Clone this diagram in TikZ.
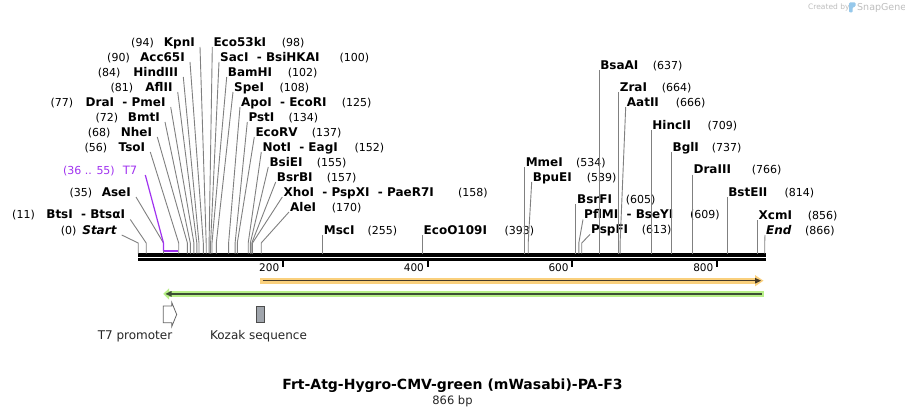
\documentclass[tikz,border=0pt]{standalone}
\usepackage{fontspec}
\setmainfont{DejaVu Sans}
\usetikzlibrary{calc}
\definecolor{leadgray}{RGB}{128,128,128}
\definecolor{t7purple}{RGB}{160,50,240}
\definecolor{orfill}{RGB}{250,208,125}
\definecolor{ordark}{RGB}{70,58,40}
\definecolor{grfill}{RGB}{184,240,136}
\definecolor{grdark}{RGB}{60,78,52}
\definecolor{kozfill}{RGB}{160,165,172}
\definecolor{wmgray}{RGB}{190,190,190}
\definecolor{wmblue}{RGB}{150,200,235}
\newcommand{\nm}[1]{{\fontsize{12}{14}\selectfont\bfseries #1}}
\newcommand{\enzL}[7]{%
  \coordinate (#1s) at (#2,253.5);
  \node[lbl, anchor=base east] (#1) at (#3,#4+4.3) {\nm{#5}};
  \node[lbl, anchor=base east] (#1n) at (#7,#4+4.3) {#6};
  \draw[leader] ($(#1.base east)+(5,0.7)$) -- ($(#1s)+(0,-10.5)$) -- (#1s);
}
\newcommand{\enzR}[7]{%
  \coordinate (#1s) at (#2,253.5);
  \node[lbl, anchor=base west] (#1) at (#3,#4+4.3) {\nm{#5}};
  \node[lbl, anchor=base west] (#1n) at (#7,#4+4.3) {#6};
  \draw[leader] ($(#1.base west)+(-1,0.7)$) -- ($(#1s)+(0,-10.5)$) -- (#1s);
}
\tikzset{
  lbl/.style={inner sep=0pt, font=\fontsize{11}{13}\selectfont},
  leader/.style={draw=leadgray, line width=0.9pt},
  featlbl/.style={inner sep=0pt, font=\fontsize{12}{14}\selectfont, text=black!85},
}
\begin{document}
\begin{tikzpicture}[x=1pt,y=-1pt]
\useasboundingbox (0,0) rectangle (905,417);
\fill[white] (0,0) rectangle (905,417);

% watermark
\node[inner sep=0pt, anchor=west, font=\fontsize{7.5}{9}\selectfont, text=wmgray] (wm1) at (808,7.5) {Created by};
\fill[wmblue, rounded corners=1pt] (849,12.5) -- (849,2.5) -- (855.5,2.5) -- (855.5,6.5) -- (852.5,7.5) -- (852.5,12.5) -- cycle;
\node[inner sep=0pt, anchor=west, font=\fontsize{9.5}{11}\selectfont, text=wmgray] (wm2) at (857,7.5) {SnapGene};

% sequence line
\fill[black] (137.7,253.3) rectangle (765.5,256.7);
\fill[black] (137.7,258) rectangle (765.5,260.7);

% ticks
\foreach \x/\t in {282.9/200,427.6/400,572.3/600,717/800}{
  \fill[black] (\x-0.9,261) rectangle (\x+0.9,267);
  \node[inner sep=0pt, anchor=base east, font=\fontsize{10.5}{12}\selectfont] (tick\t) at (\x-3.5,271.5) {\t};
}

% left-side enzymes
\enzL{kpn}{206.2}{195}{42}{KpnI}{(94)}{154}
\enzL{acc}{203.3}{185}{57}{Acc65I}{(90)}{130}
\enzL{hind}{199.0}{178.3}{72}{HindIII}{(84)}{120.7}
\enzL{afl}{196.8}{172.7}{87}{AflII}{(81)}{133.3}
\enzL{dra}{193.9}{165.7}{102}{DraI\ \ - PmeI}{(77)}{73.3}
\enzL{bmt}{190.3}{160}{117}{BmtI}{(72)}{118.3}
\enzL{nhe}{187.4}{152.3}{132}{NheI}{(68)}{110.7}
\enzL{tso}{178.7}{145.3}{147}{TsoI}{(56)}{107.3}
\enzL{ase}{163.5}{131}{192}{AseI}{(35)}{92.3}
\enzL{bts}{146.2}{125.3}{214.5}{BtsI\ \ - BtsαI}{(11)}{35}
\enzL{start}{138.2}{116.7}{230}{\itshape Start}{(0)}{76.7}

% T7 primer-like feature
\node[lbl, text=t7purple, anchor=base east] (t7n) at (115,174.3) {(36 .. 55)};
\node[lbl, text=t7purple, anchor=base east, font=\fontsize{11.5}{13}\selectfont] (t7) at (137.3,174.3) {T7};
\coordinate (t7a) at (163.5,250.8);
\coordinate (t7b) at (178,250.8);
\draw[t7purple, line width=1.2pt] ($(t7.base east)+(8,0.7)$) -- ($(t7a)+(0,-7.8)$) -- (t7a);
\draw[t7purple, line width=1.8pt] (t7a) -- (t7b);

% right-side enzymes
\enzR{ecofs}{209.1}{213.3}{42}{Eco53kI}{(98)}{281.7}
\enzR{sac}{210.6}{220}{57}{SacI\ \ - BsiHKAI}{(100)}{339.3}
\enzR{bam}{212.0}{227.7}{72}{BamHI}{(102)}{287.7}
\enzR{spe}{216.3}{234}{87}{SpeI}{(108)}{279.3}
\enzR{apo}{228.6}{241}{102}{ApoI\ \ - EcoRI}{(125)}{341.7}
\enzR{pst}{235.1}{248.3}{117}{PstI}{(134)}{288.3}
\enzR{ecorv}{237.3}{255.3}{132}{EcoRV}{(137)}{311.7}
\enzR{nota}{248.2}{262.3}{147}{NotI\ \ - EagI}{(152)}{354.3}
\enzR{bsie}{250.3}{269.3}{162}{BsiEI}{(155)}{316.7}
\enzR{bsrb}{251.8}{276.7}{177}{BsrBI}{(157)}{326.7}
\enzR{xho}{252.5}{283.3}{192}{XhoI\ \ - PspXI\ \ - PaeR7I}{(158)}{458}
\enzR{ale}{261.2}{290}{207}{AleI}{(170)}{331.7}
\enzR{msc}{322.7}{323.7}{230}{MscI}{(255)}{367.3}
\enzR{ecoo}{422.5}{423.5}{230}{EcoO109I}{(393)}{504.3}
\enzR{mme}{524.6}{525.6}{162}{MmeI}{(534)}{576}
\enzR{bpu}{528.2}{532.7}{177}{BpuEI}{(539)}{586.7}
\enzR{bsrf}{575.9}{576.9}{199}{BsrFI}{(605)}{625.7}
\enzR{pfl}{578.8}{584}{214.5}{PflMI\ \ - BseYI}{(609)}{690}
\enzR{pspf}{581.7}{591}{229.5}{PspFI}{(613)}{641.7}
\enzR{bsaa}{599.1}{600.1}{65}{BsaAI}{(637)}{652.7}
\enzR{zra}{618.6}{619.6}{87}{ZraI}{(664)}{661.7}
\enzR{aat}{620.1}{626.7}{102}{AatII}{(666)}{675.7}
\enzR{hinc}{651.2}{652.2}{125}{HincII}{(709)}{707.3}
\enzR{bgl}{671.4}{672.4}{147.3}{BglI}{(737)}{711.7}
\enzR{drath}{692.4}{693.4}{169.5}{DraIII}{(766)}{751.7}
\enzR{bste}{727.1}{728.1}{192}{BstEII}{(814)}{784.3}
\enzR{xcm}{757.5}{758.5}{215}{XcmI}{(856)}{807.7}
\enzR{endd}{764.7}{766}{230}{\itshape End}{(866)}{805}

% orange feature (forward)
\fill[orfill] (260,277.7) rectangle (755,283.7);
\fill[orfill] (755,275) -- (763.5,280.7) -- (755,286.4) -- cycle;
\draw[ordark, line width=1.4pt] (262.7,280.7) -- (756,280.7);
\fill[ordark] (755,277.8) -- (761,280.7) -- (755,283.6) -- cycle;

% green feature (reverse)
\fill[grfill] (168.5,291) rectangle (764,296.7);
\fill[grfill] (169,288.3) -- (163.3,293.9) -- (169,299.5) -- cycle;
\draw[grdark, line width=1.4pt] (170,293.9) -- (761.7,293.9);
\fill[grdark] (171.5,291) -- (165.5,293.9) -- (171.5,296.8) -- cycle;

% T7 promoter
\draw[draw=black!60, fill=white, line width=0.8pt, line join=miter]
  (163.3,306) -- (171.7,306) -- (171.7,302.3) -- (176.7,314.5) -- (171.7,326.7) -- (171.7,322.7) -- (163.3,322.7) -- cycle;
\node[featlbl] (t7lbl) at (135,336.5) {T7 promoter};

% Kozak sequence
\draw[draw=black!70, fill=kozfill, line width=0.8pt] (256,306) rectangle (264,322.7);
\node[featlbl] (kozlbl) at (258.5,336.5) {Kozak sequence};

% title
\node[inner sep=0pt, font=\fontsize{14}{16}\selectfont\bfseries] (title) at (452.5,386) {Frt-Atg-Hygro-CMV-green (mWasabi)-PA-F3};
\node[inner sep=0pt, font=\fontsize{11.5}{13}\selectfont, text=black!85] (bp) at (452.5,401.5) {866 bp};
\end{tikzpicture}
\end{document}
